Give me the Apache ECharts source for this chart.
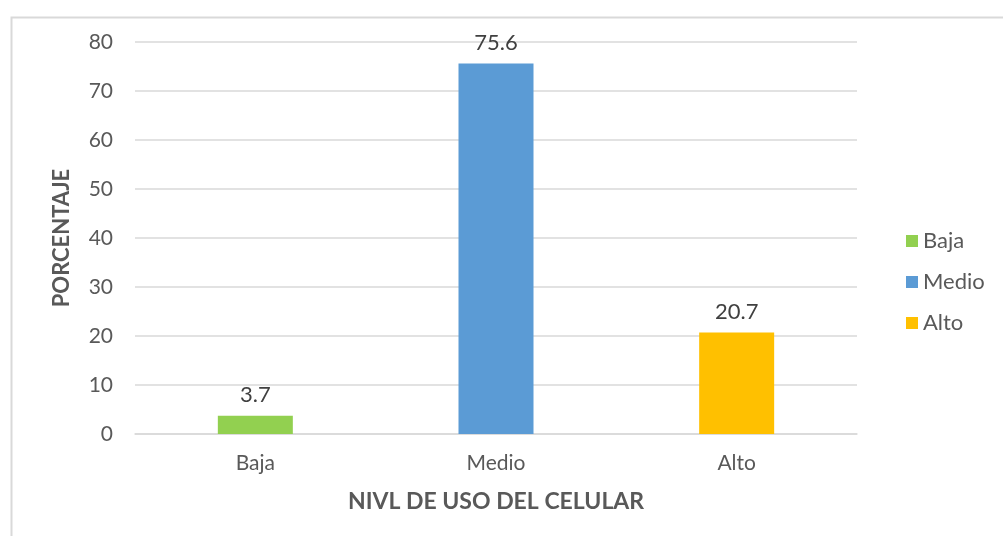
<!DOCTYPE html>
<html><head><meta charset="utf-8">
<script src="https://cdn.jsdelivr.net/npm/echarts@6/dist/echarts.min.js"></script>
<style>html,body{margin:0;padding:0;background:#fff}#c{width:1003px;height:536px}</style>
</head><body><div id="c"></div>
<script>
const categories = ['Baja', 'Medio', 'Alto'];
const values = [3.7, 75.6, 20.7];
const colors = ['#92D050', '#5B9BD5', '#FFC000'];
const yTicks = { min: 0, max: 80, interval: 10 };
const xTitle = 'NIVL DE USO DEL CELULAR';
const yTitle = 'PORCENTAJE';

const FONT = 'Lato, "Open Sans", sans-serif';
const chart = echarts.init(document.getElementById('c'));
const series = categories.map((name, i) => ({
  name, type: 'bar', stack: 's', barWidth: 75,
  data: categories.map((c, j) => j === i ? values[i] : '-'),
  itemStyle: { color: colors[i] },
  label: { show: true, position: 'top', distance: 10, color: '#404040', fontSize: 22, fontFamily: FONT }
}));
chart.setOption({
  animation: false,
  graphic: [{ type: 'rect', left: 9, top: 15, shape: { width: 1200, height: 700 }, style: { fill: 'none', stroke: '#d9d9d9', lineWidth: 2 } }],
  grid: { left: 135, right: 146, top: 42, bottom: 102 },
  legend: {
    orient: 'vertical', left: 901, top: 225, itemWidth: 12, itemHeight: 12, itemGap: 19,
    textStyle: { color: '#595959', fontSize: 22, fontFamily: FONT },
    data: categories, icon: 'rect'
  },
  xAxis: {
    type: 'category', data: categories,
    name: xTitle, nameLocation: 'middle', nameGap: 56,
    nameTextStyle: { color: '#595959', fontSize: 23, fontWeight: 'bold', fontFamily: FONT },
    axisLine: { lineStyle: { color: '#d9d9d9', width: 1.5 } }, axisTick: { show: false },
    axisLabel: { color: '#595959', fontSize: 21, fontFamily: FONT, margin: 19 }
  },
  yAxis: {
    type: 'value', min: yTicks.min, max: yTicks.max, interval: yTicks.interval,
    name: yTitle, nameLocation: 'middle', nameGap: 62, nameRotate: 90,
    nameTextStyle: { color: '#595959', fontSize: 22, fontWeight: 'bold', fontFamily: FONT },
    axisLine: { show: false }, axisTick: { show: false },
    axisLabel: { color: '#595959', fontSize: 21, fontFamily: FONT, margin: 22 },
    splitLine: { lineStyle: { color: '#d9d9d9', width: 1.5 } }
  },
  series
});
</script></body></html>
